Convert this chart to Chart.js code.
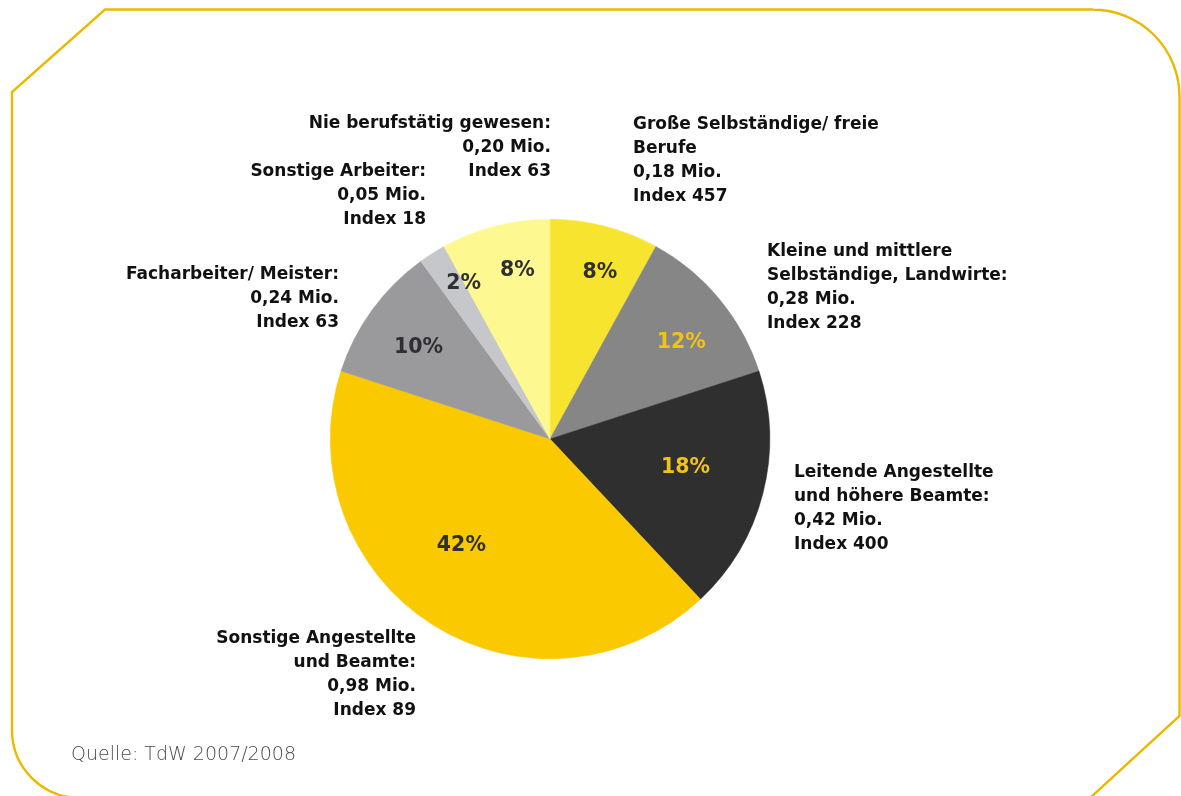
<!DOCTYPE html>
<html lang="de">
<head>
<meta charset="utf-8">
<title>Berufsgruppen – Anteile</title>
<script src="https://cdn.jsdelivr.net/npm/chart.js@4/dist/chart.umd.min.js"></script>
<style>
  html, body { margin: 0; padding: 0; background: #ffffff; }
  #wrap { width: 1181px; height: 796px; position: relative; }
  canvas { display: block; }
</style>
</head>
<body>
<div id="wrap"><canvas id="pie" width="1181" height="796"></canvas></div>
<script>
// Occupational groups, clockwise from 12 o'clock
const categories = [
  'Große Selbständige/ freie Berufe',
  'Kleine und mittlere Selbständige, Landwirte',
  'Leitende Angestellte und höhere Beamte',
  'Sonstige Angestellte und Beamte',
  'Facharbeiter/ Meister',
  'Sonstige Arbeiter',
  'Nie berufstätig gewesen'
];
// Share in percent
const shares = [8, 12, 18, 42, 10, 2, 8];
// Persons in millions (as printed)
const millions = ['0,18', '0,28', '0,42', '0,98', '0,24', '0,05', '0,20'];
// Index values
const indexValues = [457, 228, 400, 89, 63, 18, 63];
// Heading lines of each outer label
const headingLines = [
  ['Große Selbständige/ freie', 'Berufe'],
  ['Kleine und mittlere', 'Selbständige, Landwirte:'],
  ['Leitende Angestellte', 'und höhere Beamte:'],
  ['Sonstige Angestellte', 'und Beamte:'],
  ['Facharbeiter/ Meister:'],
  ['Sonstige Arbeiter:'],
  ['Nie berufstätig gewesen:']
];
const sourceNote = 'Quelle: TdW 2007/2008';

// Styling
const sliceColors = ['#f7e42e', '#868686', '#2f2f2f', '#fbc900', '#9a9a9d', '#c6c7cb', '#fdf88f'];
const pctColors   = ['#2f2f33', '#f2c21a', '#f2c21a', '#2f2f33', '#2f2f33', '#2f2f33', '#2f2f33'];
// Placement of the percent text inside each slice: radius fraction, angle shift (deg)
const pctRadius = [0.79, 0.74, 0.63, 0.63, 0.73, 0.81, 0.78];
const pctShift  = [2.3, 3.4, -2.4, 7.4, -1.1, 3.4, 3.4];
// Outer label anchors (x, first line y, alignment)
const labelAnchors = [
  { x: 633, y: 125, align: 'left' },
  { x: 767, y: 252, align: 'left' },
  { x: 794, y: 473, align: 'left' },
  { x: 416, y: 639, align: 'right' },
  { x: 339, y: 275, align: 'right' },
  { x: 426, y: 172, align: 'right' },
  { x: 551, y: 124, align: 'right' }
];
const LINE_H = 23.7;
const FONT_BOLD = 'bold 17px "DejaVu Sans", Verdana, sans-serif';

// Yellow frame with cut and rounded corners
const framePlugin = {
  id: 'frame',
  beforeDraw(chart) {
    const c = chart.ctx;
    c.save();
    c.strokeStyle = '#eab900';
    c.lineWidth = 2.4;
    c.lineJoin = 'miter';
    c.beginPath();
    c.moveTo(105, 9.5);
    c.lineTo(1093, 9.5);
    c.arcTo(1179.5, 9.5, 1179.5, 96, 87);
    c.lineTo(1179.5, 716);
    c.lineTo(1090, 798);
    c.lineTo(80, 798);
    c.arcTo(12, 798, 12, 730, 68);
    c.lineTo(12, 92);
    c.closePath();
    c.stroke();
    c.restore();
  }
};

// Percent text inside slices, outer labels and source note
const labelPlugin = {
  id: 'sliceLabels',
  afterDatasetsDraw(chart) {
    const c = chart.ctx;
    const meta = chart.getDatasetMeta(0);
    c.save();
    c.font = 'bold 20.5px "DejaVu Sans", Verdana, sans-serif';
    c.textAlign = 'center';
    c.textBaseline = 'middle';
    meta.data.forEach((arc, i) => {
      const p = arc.getProps(['x', 'y', 'startAngle', 'endAngle', 'outerRadius'], true);
      const mid = (p.startAngle + p.endAngle) / 2 + pctShift[i] * Math.PI / 180;
      const r = p.outerRadius * pctRadius[i];
      c.fillStyle = pctColors[i];
      c.fillText(shares[i] + '%', p.x + Math.cos(mid) * r, p.y + Math.sin(mid) * r);
    });

    c.font = FONT_BOLD;
    c.fillStyle = '#111111';
    c.textBaseline = 'middle';
    categories.forEach((cat, i) => {
      const a = labelAnchors[i];
      const lines = headingLines[i].concat([millions[i] + ' Mio.', 'Index ' + indexValues[i]]);
      c.textAlign = a.align;
      lines.forEach((t, k) => c.fillText(t, a.x, a.y + k * LINE_H));
    });

    c.font = '200 19px "DejaVu Sans", sans-serif';
    c.fillStyle = '#4a4a4a';
    c.textAlign = 'left';
    c.fillText(sourceNote, 71, 755);
    c.restore();
  }
};

new Chart(document.getElementById('pie'), {
  type: 'pie',
  data: {
    labels: categories,
    datasets: [{
      data: shares,
      backgroundColor: sliceColors,
      borderColor: sliceColors,
      borderWidth: 0.5
    }]
  },
  options: {
    responsive: false,
    devicePixelRatio: 1,
    animation: false,
    rotation: 0,
    layout: { padding: { left: 330, right: 411, top: 219, bottom: 137 } },
    plugins: {
      legend: { display: false },
      tooltip: { enabled: false },
      title: { display: false }
    }
  },
  plugins: [framePlugin, labelPlugin]
});
</script>
</body>
</html>
